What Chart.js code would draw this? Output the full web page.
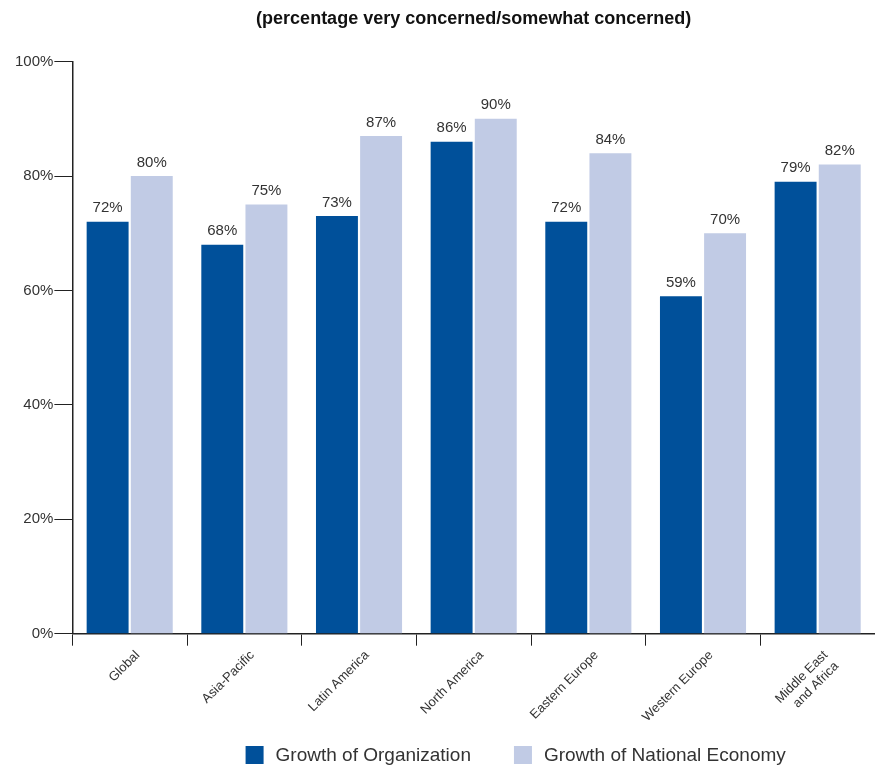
<!DOCTYPE html>
<html>
<head>
<meta charset="utf-8">
<script src="https://cdn.jsdelivr.net/npm/chart.js@4"></script>
<style>
   html, body { margin: 0; padding: 0; background: #fff; }
   #wrap { width: 875px; height: 765px; }
</style>
</head>
<body>
<div id="wrap"><canvas id="chart" width="875" height="765"></canvas></div>
<script>
const regions = ["Global", "Asia-Pacific", "Latin America", "North America", "Eastern Europe", "Western Europe", ["Middle East", "and Africa"]];
const orgGrowth = [72, 68, 73, 86, 72, 59, 79];
const economyGrowth = [80, 75, 87, 90, 84, 70, 82];
const yTicks = [0, 20, 40, 60, 80, 100];

const fontFamily = "'Liberation Sans', Arial, sans-serif";

// writes the value over each bar
const barLabels =
{
   id: "barLabels",
   afterDatasetsDraw(chart)
   {
      const ctx = chart.ctx;
      ctx.save();
      ctx.font = "15px " + fontFamily;
      ctx.fillStyle = "#333";
      ctx.textAlign = "center";
      ctx.textBaseline = "bottom";
      chart.data.datasets.forEach((ds, i) =>
      {
         chart.getDatasetMeta(i).data.forEach((bar, j) =>
         {
            ctx.fillText(ds.data[j] + "%", bar.x, bar.y - 6);
         });
      });
      ctx.restore();
   }
};

// legend row under the axis labels, a bit right of centre like the original
const bottomLegend =
{
   id: "bottomLegend",
   afterDraw(chart)
   {
      const ctx = chart.ctx;
      const area = chart.chartArea;
      const box = 18, textGap = 12, itemGap = 43;
      ctx.save();
      ctx.font = "19px " + fontFamily;
      ctx.textBaseline = "middle";
      ctx.textAlign = "left";
      const items = chart.data.datasets.map(ds => ({ text: ds.label, color: ds.backgroundColor, w: ctx.measureText(ds.label).width }));
      const total = items.reduce((s, it) => s + box + textGap + it.w, 0) + itemGap * (items.length - 1);
      let x = (area.left + area.right) / 2 + 42 - total / 2;
      const y = chart.height - 10;
      items.forEach(it =>
      {
         ctx.fillStyle = it.color;
         ctx.fillRect(x, y - box / 2, box, box);
         ctx.fillStyle = "#333";
         ctx.fillText(it.text, x + box + textGap, y + 1);
         x += box + textGap + it.w + itemGap;
      });
      ctx.restore();
   }
};

new Chart(document.getElementById("chart").getContext("2d"),
{
   type: "bar",
   data:
   {
      labels: regions,
      datasets:
      [
         {
            label: "Growth of Organization",
            data: orgGrowth,
            backgroundColor: "#00509a"
         },
         {
            label: "Growth of National Economy",
            data: economyGrowth,
            backgroundColor: "#c1cbe5"
         }
      ]
   },
   options:
   {
      animation: false,
      responsive: false,
      categoryPercentage: 0.77,
      barPercentage: 0.95,
      layout: { padding: { left: 14, right: 0, top: 0, bottom: 27 } },
      scales:
      {
         x:
         {
            grid:
            {
               offset: true,
               drawOnChartArea: false,
               drawTicks: true,
               tickLength: 12,
               color: "#222"
            },
            border: { display: true, color: "#222", width: 1.5 },
            ticks:
            {
               minRotation: 45,
               maxRotation: 45,
               color: "#333",
               font: { size: 13, family: fontFamily },
               padding: 2,
               labelOffset: 8
            }
         },
         y:
         {
            min: 0,
            max: 100,
            afterBuildTicks: axis => { axis.ticks = yTicks.map(v => ({ value: v })); },
            grid:
            {
               drawOnChartArea: false,
               drawTicks: true,
               tickLength: 18,
               color: "#222"
            },
            border: { display: true, color: "#222", width: 1.5 },
            ticks:
            {
               color: "#333",
               font: { size: 15, family: fontFamily },
               padding: 1,
               callback: value => value + "%"
            }
         }
      },
      plugins:
      {
         title:
         {
            display: true,
            fullSize: false,
            text: "(percentage very concerned/somewhat concerned)",
            color: "#111",
            font: { size: 18, weight: "bold", family: fontFamily },
            padding: { top: 8, bottom: 32 }
         },
         legend: { display: false },
         tooltip: { enabled: false }
      }
   },
   plugins: [barLabels, bottomLegend]
});
</script>
</body>
</html>
